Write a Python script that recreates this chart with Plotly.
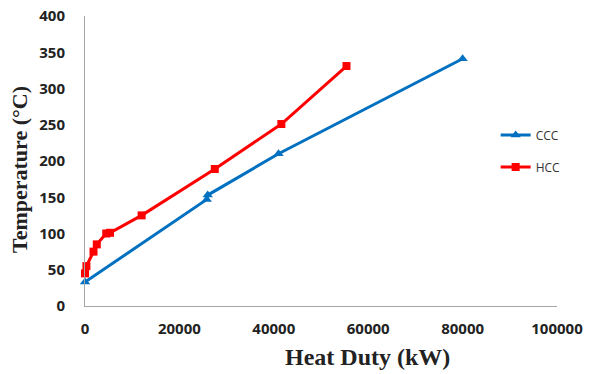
import plotly.graph_objects as go

ccc_x = [0, 25800, 26000, 41000, 80000]
ccc_y = [33, 147, 153, 210, 341]
hcc_x = [0, 300, 1800, 2500, 4500, 5300, 12000, 27500, 41600, 55400]
hcc_y = [45, 55, 75, 85, 100, 101, 125, 189, 251, 331]

x_ticks = [0, 20000, 40000, 60000, 80000, 100000]
y_ticks = [0, 50, 100, 150, 200, 250, 300, 350, 400]

fig = go.Figure()
fig.add_trace(go.Scatter(x=ccc_x, y=ccc_y, name="CCC", mode="lines+markers",
                         line=dict(color="#0070C0", width=3),
                         marker=dict(symbol="triangle-up", size=9, color="#0070C0"),
                         legendgroup="a", cliponaxis=False))
fig.add_trace(go.Scatter(x=hcc_x, y=hcc_y, name="HCC", mode="lines+markers",
                         line=dict(color="#FF0000", width=3),
                         marker=dict(symbol="square", size=8, color="#FF0000"),
                         legendgroup="b", cliponaxis=False))

tickfont = dict(family="Open Sans, Arial, sans-serif", size=15, color="#222222", weight="bold")

fig.update_layout(
    width=598, height=374,
    margin=dict(l=85, r=41, t=16, b=68),
    paper_bgcolor="white", plot_bgcolor="white",
    showlegend=True,
    legend=dict(x=0.87, y=0.64, xanchor="left", yanchor="top",
                font=dict(family="Open Sans, Arial, sans-serif", size=12, color="#333333"),
                tracegroupgap=13, traceorder="grouped", bgcolor="rgba(0,0,0,0)"),
    xaxis=dict(range=[0, 100000], tickvals=x_ticks, showgrid=False, zeroline=False,
               showline=True, linecolor="#A6A6A6", linewidth=1, ticks="",
               tickfont=tickfont, ticklabelstandoff=9, tickformat="d", automargin=False),
    yaxis=dict(range=[0, 400], tickvals=y_ticks, showgrid=False, zeroline=False,
               showline=True, linecolor="#A6A6A6", linewidth=1, ticks="",
               tickfont=tickfont, ticklabelstandoff=16, automargin=False),
    annotations=[
        dict(text="Heat Duty (kW)", xref="paper", yref="paper", x=(367 - 85) / 472, y=-(357 - 306) / 290,
             xanchor="center", yanchor="middle", showarrow=False,
             font=dict(family="Liberation Serif, Times New Roman, serif", size=24,
                       color="#222222", weight="bold")),
        dict(text="Temperature (°C)", xref="paper", yref="paper", x=-(85 - 19) / 472, y=(306 - 170) / 290,
             xanchor="center", yanchor="middle", showarrow=False, textangle=-90,
             font=dict(family="Liberation Serif, Times New Roman, serif", size=22,
                       color="#222222", weight="bold")),
    ],
)

fig.write_html("out.html")
